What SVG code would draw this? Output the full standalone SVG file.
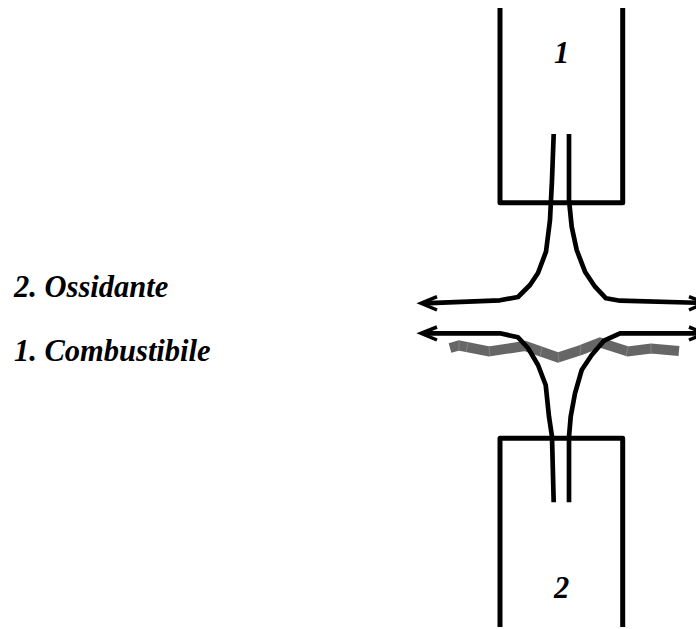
<svg xmlns="http://www.w3.org/2000/svg" width="696" height="629" viewBox="0 0 696 629">
<style>
.k{fill:none;stroke:#000;stroke-width:4.700;stroke-linejoin:round}
.b{fill:none;stroke:#000;stroke-width:5;stroke-linejoin:round;stroke-linecap:butt}
.h{fill:none;stroke:#000;stroke-width:3.500;stroke-linejoin:miter}
.t{font-family:"Liberation Serif","Times New Roman",serif;font-weight:bold;font-style:italic;font-size:30.500px;fill:#000}
.g{fill:none;stroke:#666;stroke-width:10;stroke-linejoin:miter}
.s{stroke:#8a8a8a;stroke-width:.8;fill:none}
</style>
<rect width="696" height="629" fill="#fff"/>
<g id="flame">
<polyline class="g" points="450,348 459,345.500 489,351.500 525,346 558,357.500 581,350 600,342.500 628,351.500 651,348.500 679,351"/>
<path class="s" d="M459,341V350M468,343L466,352M489,347L490,356M542,347L540,357M558,353L559,362M581,345L580,355M628,347L626,356M651,344V353"/>
</g>
<g id="burner-1">
<polyline class="b" points="500,8 500,202.700 622.700,202.700 622.700,8"/>
<text class="t" x="561.500" y="63" text-anchor="middle">1</text>
</g>
<g id="burner-2">
<polyline class="b" points="500,627 500,438.300 622.700,438.300 622.700,627"/>
<text class="t" x="561.500" y="598" text-anchor="middle">2</text>
</g>
<g id="connectors">
<polyline class="k" points="553.700,134 552,180 550,220 546,251.700 538,273 530,285 518,297 500,300.300 423,303.300"/>
<polyline class="h" points="437,296.700 421,303.300 437,310"/>
<polyline class="k" points="569,134 569,200 571.700,226.700 576.700,250 585,271.700 595,286.700 606,298.300 620,300.700 705,303"/>
<polyline class="h" points="689,296.700 705,303 689,310"/>
<polyline class="k" points="423,333.300 500,333.300 518,337.300 528,348 538,365 545.700,385 549,416.700 552,436.700 553.700,502.300"/>
<polyline class="h" points="437,327 421,333.300 437,340"/>
<polyline class="k" points="569,502.300 569,436.700 570.700,416.700 575,393.300 581.700,370 591.700,355 604,340.700 620,333.300 705,333.300"/>
<polyline class="h" points="689,327 705,333.300 689,340"/>
</g>
<g id="labels">
<text class="t" x="14" y="297">2. Ossidante</text>
<text class="t" x="14" y="361">1. Combustibile</text>
</g>
</svg>
